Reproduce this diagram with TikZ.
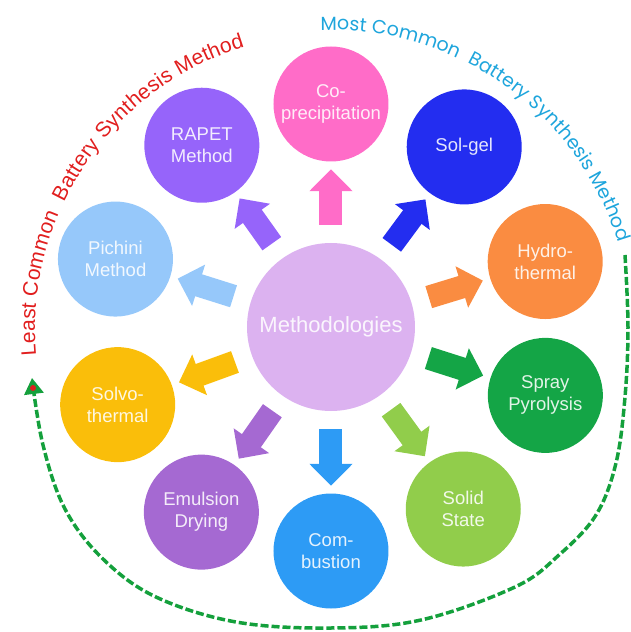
\documentclass[tikz,border=0pt]{standalone}
\usepackage{fontspec}
\setmainfont{Liberation Sans}
\newfontfamily\roundfont{Poppins}
\usepackage{tikz}
\usetikzlibrary{arrows.meta, decorations.text}

\definecolor{methcol}{RGB}{220,178,240}
\definecolor{coprecol}{RGB}{255,108,200}
\definecolor{solgelcol}{RGB}{35,45,240}
\definecolor{hydrocol}{RGB}{250,140,65}
\definecolor{spraycol}{RGB}{20,165,70}
\definecolor{solidcol}{RGB}{145,205,75}
\definecolor{combustcol}{RGB}{45,155,245}
\definecolor{emulsioncol}{RGB}{165,105,210}
\definecolor{solvocol}{RGB}{250,190,10}
\definecolor{pichinicol}{RGB}{150,200,250}
\definecolor{rapetcol}{RGB}{150,100,250}
\definecolor{leastcol}{RGB}{225,30,30}
\definecolor{mostcol}{RGB}{30,165,220}
\definecolor{ringcol}{RGB}{20,160,60}

\begin{document}
\begin{tikzpicture}[
    x=1pt, y=1pt,
    method/.style={circle, minimum size=115pt, inner sep=0pt, align=center,
        text=white, text opacity=0.88, font=\fontsize{18.5}{22}\selectfont},
    fat/.style={line width=23pt, -{Triangle[length=22pt, width=42pt]},
        shorten <=18pt, shorten >=7.5pt},
    ringarrow/.style={draw=ringcol, line width=3.5pt, dash pattern=on 8pt off 3pt,
        -{Triangle[length=16pt, width=19pt]}}
]
\useasboundingbox (-331,-305) rectangle (299,327);

\node (meth)     [method, minimum size=168pt, fill=methcol, font=\fontsize{22}{26}\selectfont] at (0,0) {Methodologies};

\node (copre)    [method, fill=coprecol]    at (90:223)   {Co-\\precipitation};
\node (solgel)   [method, fill=solgelcol]   at (53.5:224) {Sol-gel};
\node (hydro)    [method, fill=hydrocol]    at (17:224)   {Hydro-\\thermal};
\node (spray)    [method, fill=spraycol]    at (-17.7:225) {Spray\\Pyrolysis};
\node (solid)    [method, fill=solidcol]    at (-54:225)  {Solid\\State};
\node (combust)  [method, fill=combustcol]  at (-90:224)  {Com-\\bustion};
\node (emulsion) [method, fill=emulsioncol] at (-125:226) {Emulsion\\Drying};
\node (solvo)    [method, fill=solvocol]    at (-160:227) {Solvo-\\thermal};
\node (pichini)  [method, fill=pichinicol]  at (162.5:226) {Pichini\\Method};
\node (rapet)    [method, fill=rapetcol]    at (125.4:223) {RAPET\\Method};

\draw[fat, coprecol]    (meth) -- (copre);
\draw[fat, solgelcol]   (meth) -- (solgel);
\draw[fat, hydrocol]    (meth) -- (hydro);
\draw[fat, spraycol]    (meth) -- (spray);
\draw[fat, solidcol]    (meth) -- (solid);
\draw[fat, combustcol]  (meth) -- (combust);
\draw[fat, emulsioncol] (meth) -- (emulsion);
\draw[fat, solvocol]    (meth) -- (solvo);
\draw[fat, pichinicol]  (meth) -- (pichini);
\draw[fat, rapetcol]    (meth) -- (rapet);

% dashed ring and the two captions around it
\coordinate (ring) at (0,-3);
\coordinate (ringstart) at (294,72);
\coordinate (ringend) at (-299,-51);
\coordinate (ringdot) at (-298,-61);

\draw[ringarrow] plot[smooth, tension=0.6] coordinates {(ringstart) (297,0) (294,-70) (285,-136)
    (265,-188) (228,-228) (184,-260) (90,-293) (0,-301) (-95,-295) (-175,-270)
    (-228,-232) (-266,-182) (-288,-118) (ringend)};
\fill[leastcol] (ringdot) circle (3pt);

\path[decorate, decoration={text along path, text color=leastcol, text align={fit to path},
    text={|\fontsize{21}{25}\selectfont|Least Common{ }{ }Battery Synthesis Method}}]
    ([shift={(ring)}]185:296) arc[start angle=185, end angle=107, radius=296];
\path[decorate, decoration={text along path, text color=mostcol, text align={fit to path},
    text={|\roundfont\fontsize{19}{23}\selectfont|Most Common{ }{ }Battery Synthesis Method}}]
    ([shift={(ring)}]92:300) arc[start angle=92, end angle=17, radius=300];

\end{tikzpicture}
\end{document}
